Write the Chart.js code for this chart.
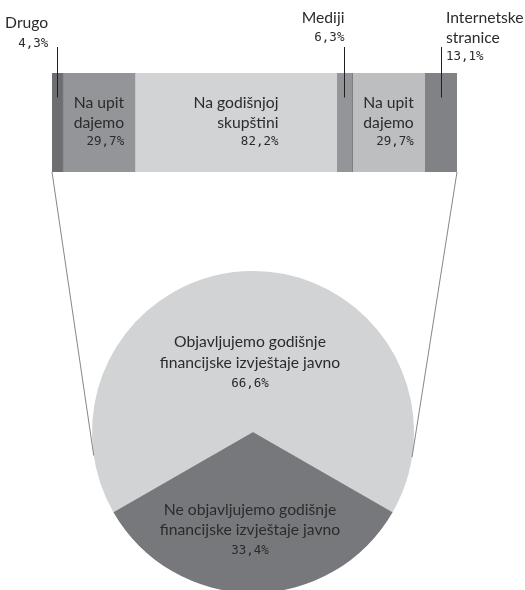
<!DOCTYPE html>
<html>
<head>
<meta charset="utf-8">
<script src="https://cdn.jsdelivr.net/npm/chart.js@4.4.1/dist/chart.umd.min.js"></script>
<style>
    html, body { margin: 0; padding: 0; background: #fff; overflow: hidden; }
    #wrap { position: relative; width: 525px; height: 590px; }
    #pieChart, #barChart { position: absolute; left: 0; top: 0; }
</style>
</head>
<body>
<div id="wrap">
    <canvas id="pieChart" width="525" height="600"></canvas>
    <canvas id="barChart" width="525" height="200"></canvas>
</div>
<script>
// Traka gore: kome dajemo izvještaje
const barNames = ['Drugo', 'Na upit dajemo', 'Na godišnjoj skupštini', 'Mediji', 'Na upit dajemo', 'Internetske stranice'];
const barLines = [['Drugo'], ['Na upit', 'dajemo'], ['Na godišnjoj', 'skupštini'], ['Mediji'], ['Na upit', 'dajemo'], ['Internetske', 'stranice']];
const barValues = [4.3, 29.7, 82.2, 6.3, 29.7, 13.1];

// Krug dolje
const pieNames = ['Objavljujemo godišnje financijske izvještaje javno', 'Ne objavljujemo godišnje financijske izvještaje javno'];
const pieLines = [['Objavljujemo godišnje', 'financijske izvještaje javno'], ['Ne objavljujemo godišnje', 'financijske izvještaje javno']];
const pieValues = [66.6, 33.4];

// Boje i smještaj natpisa
const barColors = ['#6d6e71', '#939598', '#d1d3d4', '#939598', '#bcbec0', '#808285'];
const pieColors = ['#d1d3d4', '#77787b'];
const barLabelPlace = [
    { out: true, align: 'right', dx: -9, top: 23, gap: 21 },
    { out: false },
    { out: false },
    { out: true, align: 'right', dx: 0, top: 18, gap: 20 },
    { out: false },
    { out: true, align: 'left', dx: 5, top: 18, gap: 19.5 }
];
const pieLabelDist = [0.43, 0.61];

const textColor = '#2b2b2b';
const nameFont = '15.7px Lato';
const pctFont = '12.5px "DejaVu Sans Mono"';

function pct(v) {
    return v.toFixed(1).replace('.', ',') + '%';
}

const barTotal = barValues.reduce((a, b) => a + b, 0);
const pieTotal = pieValues.reduce((a, b) => a + b, 0);

// Natpisi na traci (unutra ili iznad, s linijom)
const barLabels = {
    id: 'barLabels',
    afterDatasetsDraw(chart) {
        const ctx = chart.ctx;
        ctx.save();
        ctx.fillStyle = textColor;
        ctx.textBaseline = 'middle';
        barValues.forEach((v, i) => {
            const el = chart.getDatasetMeta(i).data[0];
            const cx = (el.x + el.base) / 2;
            const top = el.y - el.height / 2;
            const lines = barLines[i].concat([pct(v)]);
            const place = barLabelPlace[i];

            if (place.out) {
                // linija od natpisa do trake
                ctx.strokeStyle = '#231f20';
                ctx.lineWidth = 1;
                ctx.beginPath();
                ctx.moveTo(Math.round(cx) + 0.5, top - 26);
                ctx.lineTo(Math.round(cx) + 0.5, el.y - 25);
                ctx.stroke();

                ctx.textAlign = place.align;
                lines.forEach((t, k) => {
                    ctx.font = k === lines.length - 1 ? pctFont : nameFont;
                    ctx.fillText(t, cx + place.dx, place.top + k * place.gap);
                });
            } else {
                let maxW = 0;
                lines.forEach((t, k) => {
                    ctx.font = k === lines.length - 1 ? pctFont : nameFont;
                    maxW = Math.max(maxW, ctx.measureText(t).width);
                });
                ctx.textAlign = 'right';
                const gap = 19.5;
                lines.forEach((t, k) => {
                    ctx.font = k === lines.length - 1 ? pctFont : nameFont;
                    ctx.fillText(t, cx + maxW / 2, el.y + (k - (lines.length - 1) / 2) * gap);
                });
            }
        });
        ctx.restore();
    }
};

const barChart = new Chart(document.getElementById('barChart'), {
    type: 'bar',
    data: {
        labels: [''],
        datasets: barValues.map((v, i) => ({
            label: barNames[i],
            data: [v],
            backgroundColor: barColors[i],
            borderColor: '#58595b',
            borderWidth: (i === 1 || i === 4) ? { left: 1, right: 0, top: 0, bottom: 0 } : 0,
            borderSkipped: false,
            barPercentage: 1,
            categoryPercentage: 1
        }))
    },
    options: {
        indexAxis: 'y',
        responsive: false,
        animation: false,
        layout: { padding: { left: 52, right: 68, top: 73, bottom: 28 } },
        scales: {
            x: { stacked: true, display: false, min: 0, max: barTotal },
            y: { stacked: true, display: false }
        },
        plugins: {
            legend: { display: false },
            tooltip: { enabled: false }
        }
    },
    plugins: [barLabels]
});

// Natpisi u krugu
const pieLabels = {
    id: 'pieLabels',
    afterDatasetsDraw(chart) {
        const ctx = chart.ctx;
        ctx.save();
        ctx.fillStyle = textColor;
        ctx.textAlign = 'center';
        ctx.textBaseline = 'middle';
        chart.getDatasetMeta(0).data.forEach((arc, i) => {
            const mid = (arc.startAngle + arc.endAngle) / 2;
            const px = arc.x + Math.cos(mid) * arc.outerRadius * pieLabelDist[i];
            const py = arc.y + Math.sin(mid) * arc.outerRadius * pieLabelDist[i];
            const lines = pieLines[i].concat([pct(pieValues[i])]);
            lines.forEach((t, k) => {
                ctx.font = k === lines.length - 1 ? pctFont : nameFont;
                ctx.fillText(t, px - 3, py + (k - 1) * 20.5);
            });
        });
        ctx.restore();
    }
};

// Linije od rubova trake do kruga (tangente)
const connectorLines = {
    id: 'connectorLines',
    afterDatasetsDraw(chart) {
        const arc = chart.getDatasetMeta(0).data[0];
        const first = barChart.getDatasetMeta(0).data[0];
        const last = barChart.getDatasetMeta(barValues.length - 1).data[0];
        const corners = [
            { x: first.base, y: first.y + first.height / 2, side: -1 },
            { x: last.x, y: last.y + last.height / 2, side: 1 }
        ];
        const ctx = chart.ctx;
        ctx.save();
        ctx.strokeStyle = '#77787b';
        ctx.lineWidth = 0.9;
        corners.forEach(p => {
            const dx = p.x - arc.x;
            const dy = p.y - arc.y;
            const d = Math.sqrt(dx * dx + dy * dy);
            const a = Math.atan2(dy, dx);
            const b = Math.acos(arc.outerRadius / d);
            const t1 = a + b;
            const t2 = a - b;
            const x1 = arc.x + Math.cos(t1) * arc.outerRadius;
            const x2 = arc.x + Math.cos(t2) * arc.outerRadius;
            const t = (p.side < 0) === (x1 < x2) ? t1 : t2;
            ctx.beginPath();
            ctx.moveTo(p.x, p.y);
            ctx.lineTo(arc.x + Math.cos(t) * arc.outerRadius, arc.y + Math.sin(t) * arc.outerRadius);
            ctx.stroke();
        });
        ctx.restore();
    }
};

new Chart(document.getElementById('pieChart'), {
    type: 'pie',
    data: {
        labels: pieNames,
        datasets: [{
            data: pieValues,
            backgroundColor: pieColors,
            borderWidth: 0
        }]
    },
    options: {
        responsive: false,
        animation: false,
        rotation: -pieValues[0] / pieTotal * 180,
        layout: { padding: { left: 92, right: 111, top: 271, bottom: 7 } },
        plugins: {
            legend: { display: false },
            tooltip: { enabled: false }
        }
    },
    plugins: [pieLabels, connectorLines]
});
</script>
</body>
</html>
